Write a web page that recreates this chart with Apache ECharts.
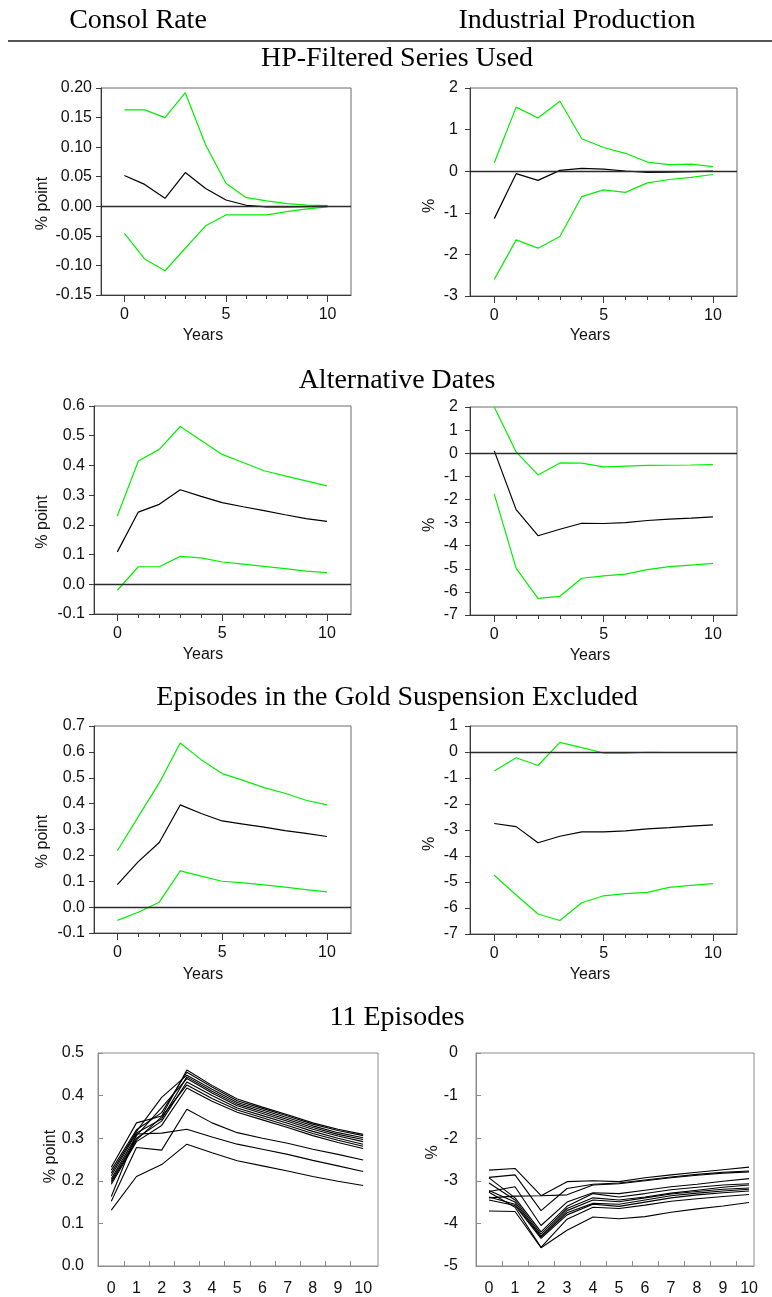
<!DOCTYPE html>
<html>
<head>
<meta charset="utf-8">
<script src="https://cdn.jsdelivr.net/npm/echarts@6/dist/echarts.min.js"></script>
<style>
  html, body { margin: 0; padding: 0; background: #fff; }
  #chart { width: 772px; height: 1297px; }
</style>
</head>
<body>
<div id="chart"></div>
<script>
// Horizon in years after the shock
const years = [0, 1, 2, 3, 4, 5, 6, 7, 8, 9, 10];
const majorYearTicks = [0, 5, 10];
const minorYearTicks = [1, 2, 3, 4, 6, 7, 8, 9];

// Row and column headings
const columnHeads = ['Consol Rate', 'Industrial Production'];
const sectionHeads = ['HP-Filtered Series Used', 'Alternative Dates',
  'Episodes in the Gold Suspension Excluded', '11 Episodes'];

// HP-filtered series: upper band, response, lower band
const hpConsolUpper = [0.163, 0.163, 0.150, 0.192, 0.1035, 0.039, 0.0146, 0.009, 0.0045, 0.002, 0.001];
const hpConsolIrf   = [0.052, 0.037, 0.0135, 0.057, 0.030, 0.0107, 0.0017, -0.001, -0.001, -0.0005, 0];
const hpConsolLower = [-0.046, -0.089, -0.109, -0.071, -0.033, -0.0146, -0.0146, -0.0146, -0.009, -0.0045, -0.001];
const hpIpUpper = [0.205, 1.54, 1.28, 1.68, 0.78, 0.57, 0.43, 0.22, 0.16, 0.17, 0.11];
const hpIpIrf   = [-1.14, -0.06, -0.22, 0.02, 0.07, 0.05, 0.005, -0.03, -0.02, -0.01, 0];
const hpIpLower = [-2.60, -1.65, -1.85, -1.57, -0.61, -0.45, -0.51, -0.28, -0.20, -0.15, -0.08];

// Alternative dates
const altConsolUpper = [0.230, 0.415, 0.454, 0.531, 0.484, 0.437, 0.410, 0.382, 0.365, 0.348, 0.331];
const altConsolIrf   = [0.109, 0.243, 0.269, 0.318, 0.296, 0.275, 0.261, 0.248, 0.234, 0.221, 0.212];
const altConsolLower = [-0.020, 0.059, 0.059, 0.094, 0.089, 0.075, 0.068, 0.060, 0.053, 0.044, 0.039];
const altIpUpper = [2.00, 0.056, -0.94, -0.42, -0.43, -0.59, -0.56, -0.53, -0.52, -0.51, -0.49];
const altIpIrf   = [0.10, -2.44, -3.57, -3.29, -3.03, -3.04, -3.00, -2.91, -2.85, -2.81, -2.75];
const altIpLower = [-1.77, -4.98, -6.28, -6.19, -5.41, -5.31, -5.23, -5.04, -4.91, -4.84, -4.77];

// Episodes in the gold suspension excluded
const goldConsolUpper = [0.218, 0.350, 0.480, 0.634, 0.570, 0.516, 0.490, 0.462, 0.440, 0.413, 0.395];
const goldConsolIrf   = [0.087, 0.176, 0.250, 0.395, 0.362, 0.333, 0.321, 0.309, 0.296, 0.285, 0.273];
const goldConsolLower = [-0.051, -0.020, 0.019, 0.140, 0.120, 0.100, 0.094, 0.086, 0.077, 0.068, 0.059];
const goldIpUpper = [-0.73, -0.22, -0.52, 0.37, 0.17, -0.04, -0.04, -0.01, -0.02, -0.02, -0.02];
const goldIpIrf   = [-2.75, -2.87, -3.49, -3.24, -3.07, -3.07, -3.03, -2.96, -2.91, -2.85, -2.80];
const goldIpLower = [-4.74, -5.50, -6.23, -6.48, -5.80, -5.53, -5.45, -5.40, -5.21, -5.13, -5.06];

// One response per episode dropped (11 episodes)
const episodeConsol = [
  [0.232, 0.336, 0.352, 0.460, 0.424, 0.392, 0.373, 0.355, 0.336, 0.321, 0.309],
  [0.225, 0.320, 0.360, 0.455, 0.420, 0.388, 0.370, 0.352, 0.333, 0.318, 0.306],
  [0.218, 0.316, 0.396, 0.448, 0.415, 0.384, 0.366, 0.348, 0.329, 0.313, 0.301],
  [0.212, 0.312, 0.345, 0.444, 0.410, 0.380, 0.362, 0.344, 0.325, 0.309, 0.297],
  [0.205, 0.306, 0.372, 0.440, 0.406, 0.376, 0.358, 0.340, 0.321, 0.305, 0.292],
  [0.200, 0.300, 0.340, 0.432, 0.400, 0.371, 0.353, 0.335, 0.316, 0.300, 0.286],
  [0.196, 0.296, 0.350, 0.425, 0.393, 0.366, 0.348, 0.330, 0.311, 0.295, 0.281],
  [0.192, 0.292, 0.330, 0.418, 0.387, 0.361, 0.343, 0.325, 0.306, 0.290, 0.276],
  [0.163, 0.310, 0.312, 0.321, 0.303, 0.286, 0.274, 0.262, 0.248, 0.235, 0.222],
  [0.152, 0.278, 0.272, 0.368, 0.336, 0.313, 0.300, 0.288, 0.274, 0.262, 0.249],
  [0.131, 0.210, 0.238, 0.286, 0.266, 0.247, 0.235, 0.223, 0.210, 0.199, 0.189]
];
const episodeIp = [
  [-2.75, -2.71, -3.35, -3.02, -3.00, -3.02, -2.93, -2.86, -2.80, -2.74, -2.68],
  [-2.92, -2.86, -3.70, -3.18, -3.08, -3.05, -2.98, -2.91, -2.85, -2.80, -2.77],
  [-3.40, -3.36, -3.35, -3.33, -3.10, -3.07, -3.00, -2.93, -2.87, -2.82, -2.79],
  [-3.25, -3.14, -4.05, -3.50, -3.28, -3.30, -3.22, -3.14, -3.08, -3.01, -2.95],
  [-2.93, -3.40, -4.20, -3.60, -3.30, -3.38, -3.30, -3.21, -3.15, -3.10, -3.07],
  [-3.05, -3.45, -4.25, -3.65, -3.40, -3.45, -3.38, -3.29, -3.22, -3.15, -3.10],
  [-3.23, -3.50, -4.30, -3.70, -3.45, -3.49, -3.40, -3.31, -3.25, -3.20, -3.17],
  [-3.38, -3.55, -4.32, -3.75, -3.53, -3.55, -3.45, -3.35, -3.29, -3.24, -3.20],
  [-3.45, -3.58, -4.35, -3.80, -3.55, -3.60, -3.50, -3.40, -3.33, -3.28, -3.24],
  [-3.27, -3.62, -4.56, -3.90, -3.62, -3.65, -3.57, -3.48, -3.42, -3.37, -3.32],
  [-3.71, -3.72, -4.57, -4.16, -3.85, -3.89, -3.84, -3.74, -3.66, -3.59, -3.51]
];

const GREEN = '#00f000';
const BLACK = '#000000';
const AXIS = '#3a3a3a';
const SANS = 'Liberation Sans, Arial, sans-serif';
const SERIF = 'Liberation Serif, Times New Roman, serif';
const LABEL_SIZE = 16;
const HEAD_SIZE = 28;

const grids = [], xAxes = [], yAxes = [], seriesList = [], graphics = [];

const pairs = (arr) => years.map((x, k) => [x, arr[k]]);

// Rotated axis title centred on (x, y), reading upward
function verticalName(text, x, y) {
  graphics.push({ type: 'text', x, y, rotation: Math.PI / 2,
    style: { text, font: LABEL_SIZE + 'px ' + SANS, fill: '#111', align: 'center', verticalAlign: 'middle' } });
}

// Band panels: response with confidence bands and a zero reference line
function bandPanel(p) {
  const g = grids.length;
  grids.push({ left: p.left, top: p.top, width: p.width, height: p.height,
    show: true, borderColor: '#6a6a6a', borderWidth: 1, backgroundColor: 'transparent' });
  xAxes.push({
    type: 'value', gridIndex: g, min: p.xMin, max: p.xMax, position: 'bottom',
    axisLine: { show: true, onZero: false, lineStyle: { color: AXIS, width: 1 } },
    axisTick: { show: true, customValues: majorYearTicks, length: 7, lineStyle: { color: AXIS } },
    axisLabel: { customValues: majorYearTicks, fontFamily: SANS, fontSize: LABEL_SIZE, color: '#111', margin: 12 },
    splitLine: { show: false }
  });
  xAxes.push({
    type: 'value', gridIndex: g, min: p.xMin, max: p.xMax, position: 'bottom',
    axisLine: { show: false, onZero: false },
    axisTick: { show: true, customValues: minorYearTicks, length: 4, lineStyle: { color: AXIS } },
    axisLabel: { show: false }, splitLine: { show: false }
  });
  const xMain = xAxes.length - 2;
  yAxes.push({
    type: 'value', gridIndex: g, min: p.yMin, max: p.yMax, interval: p.yStep,
    axisLine: { show: true, onZero: false, lineStyle: { color: AXIS, width: 1 } },
    axisTick: { show: true, length: 5, lineStyle: { color: AXIS } },
    axisLabel: { fontFamily: SANS, fontSize: LABEL_SIZE, color: '#111', margin: p.labelMargin,
      formatter: (v) => v.toFixed(p.decimals) },
    splitLine: { show: false }
  });
  const lines = [[p.upper, GREEN], [p.lower, GREEN], [p.irf, BLACK]];
  lines.forEach(([arr, color], k) => {
    const s = {
      type: 'line', xAxisIndex: xMain, yAxisIndex: g, data: pairs(arr),
      symbol: 'none', silent: true, animation: false,
      lineStyle: { color, width: 1.2 }, z: k === 2 ? 4 : 3
    };
    if (k === 2) {
      s.markLine = { silent: true, symbol: ['none', 'none'], label: { show: false },
        lineStyle: { color: '#2a2a2a', type: 'solid', width: 1.3 }, data: [{ yAxis: 0 }] };
    }
    seriesList.push(s);
  });
  verticalName(p.yName, p.yNameX, p.top + p.height / 2 + p.yNameShift);
  graphics.push({ type: 'text', x: p.yearsX, y: p.yearsY,
    style: { text: 'Years', font: LABEL_SIZE + 'px ' + SANS, fill: '#111', align: 'center', verticalAlign: 'middle' } });
}

// Episode panels: one black line per episode
function episodePanel(p) {
  const g = grids.length;
  grids.push({ left: p.left, top: p.top, width: p.width, height: p.height,
    show: true, borderColor: '#8c8c8c', borderWidth: 1, backgroundColor: 'transparent' });
  const tickAt = years.slice(0, 10).map((v) => v + 0.5);
  xAxes.push({
    type: 'value', gridIndex: g, min: p.xMin, max: p.xMax, position: 'bottom',
    axisLine: { show: true, onZero: false, lineStyle: { color: '#8c8c8c', width: 1 } },
    axisTick: { show: true, inside: true, customValues: tickAt, length: 5, lineStyle: { color: '#8c8c8c' } },
    axisLabel: { customValues: years, fontFamily: SANS, fontSize: LABEL_SIZE, color: '#111', margin: 15 },
    splitLine: { show: false }
  });
  const xi = xAxes.length - 1;
  yAxes.push({
    type: 'value', gridIndex: g, min: p.yMin, max: p.yMax, interval: p.yStep,
    axisLine: { show: true, onZero: false, lineStyle: { color: '#8c8c8c', width: 1 } },
    axisTick: { show: true, inside: true, length: 5, lineStyle: { color: '#8c8c8c' } },
    axisLabel: { fontFamily: SANS, fontSize: LABEL_SIZE, color: '#111', margin: p.labelMargin,
      formatter: (v) => v.toFixed(p.decimals) },
    splitLine: { show: false }
  });
  p.rows.forEach((arr) => {
    seriesList.push({ type: 'line', xAxisIndex: xi, yAxisIndex: g, data: pairs(arr),
      symbol: 'none', silent: true, animation: false, lineStyle: { color: BLACK, width: 1.1 } });
  });
  verticalName(p.yName, p.yNameX, p.top + p.height / 2 + p.yNameShift);
}

const colL = { left: 94, width: 257, xMin: -1.113, xMax: 11.146, yNameX: 43, yearsX: 203, labelMargin: 9 };
const colR = { left: 470, width: 267, xMin: -1.11, xMax: 11.10, yNameX: 430, yearsX: 590, labelMargin: 12 };

bandPanel(Object.assign({}, colL, { left: 101, width: 250, xMin: -1.148, xMax: 11.153,
  top: 88, height: 207, yMin: -0.15, yMax: 0.20, yStep: 0.05, decimals: 2,
  upper: hpConsolUpper, irf: hpConsolIrf, lower: hpConsolLower,
  yName: '% point', yNameShift: 12, yearsY: 336 }));
bandPanel(Object.assign({}, colR, { top: 88, height: 208, yMin: -3, yMax: 2, yStep: 1, decimals: 0,
  upper: hpIpUpper, irf: hpIpIrf, lower: hpIpLower,
  yName: '%', yNameShift: 14, yearsY: 336 }));
bandPanel(Object.assign({}, colL, { top: 406, height: 208, yMin: -0.1, yMax: 0.6, yStep: 0.1, decimals: 1,
  upper: altConsolUpper, irf: altConsolIrf, lower: altConsolLower,
  yName: '% point', yNameShift: 12, yearsY: 655 }));
bandPanel(Object.assign({}, colR, { top: 407, height: 208, yMin: -7, yMax: 2, yStep: 1, decimals: 0,
  upper: altIpUpper, irf: altIpIrf, lower: altIpLower,
  yName: '%', yNameShift: 14, yearsY: 656 }));
bandPanel(Object.assign({}, colL, { top: 726, height: 207, yMin: -0.1, yMax: 0.7, yStep: 0.1, decimals: 1,
  upper: goldConsolUpper, irf: goldConsolIrf, lower: goldConsolLower,
  yName: '% point', yNameShift: 12, yearsY: 975 }));
bandPanel(Object.assign({}, colR, { top: 726, height: 208, yMin: -7, yMax: 1, yStep: 1, decimals: 0,
  upper: goldIpUpper, irf: goldIpIrf, lower: goldIpLower,
  yName: '%', yNameShift: 14, yearsY: 975 }));

episodePanel({ left: 98, top: 1053, width: 280, height: 215, xMin: -0.528, xMax: 10.59,
  yMin: 0, yMax: 0.5, yStep: 0.1, decimals: 1, labelMargin: 14, rows: episodeConsol,
  yName: '% point', yNameX: 51, yNameShift: -4 });
episodePanel({ left: 476, top: 1053, width: 278, height: 215, xMin: -0.5, xMax: 10.19,
  yMin: -5, yMax: 0, yStep: 1, decimals: 0, labelMargin: 18, rows: episodeIp,
  yName: '%', yNameX: 433, yNameShift: -8 });

// Column headings, rule, and section headings
graphics.push({ type: 'text', x: 138, y: 21, style: { text: columnHeads[0], font: HEAD_SIZE + 'px ' + SERIF,
  fill: '#000', align: 'center', verticalAlign: 'middle' } });
graphics.push({ type: 'text', x: 577, y: 21, style: { text: columnHeads[1], font: HEAD_SIZE + 'px ' + SERIF,
  fill: '#000', align: 'center', verticalAlign: 'middle' } });
graphics.push({ type: 'line', shape: { x1: 8, y1: 41, x2: 772, y2: 41 },
  style: { stroke: '#555', lineWidth: 2 } });
[59, 381, 698, 1018].forEach((y, k) => {
  graphics.push({ type: 'text', x: 397, y, style: { text: sectionHeads[k], font: HEAD_SIZE + 'px ' + SERIF,
    fill: '#000', align: 'center', verticalAlign: 'middle' } });
});

const chart = echarts.init(document.getElementById('chart'), null, { renderer: 'canvas' });
chart.setOption({
  backgroundColor: '#ffffff',
  animation: false,
  grid: grids,
  xAxis: xAxes,
  yAxis: yAxes,
  series: seriesList,
  graphic: { elements: graphics }
});
</script>
</body>
</html>
